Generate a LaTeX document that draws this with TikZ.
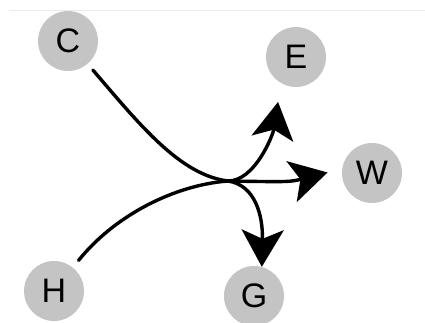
\documentclass[tikz,border=0pt]{standalone}
\usepackage{fontspec}
\setmainfont{Liberation Sans}
\usetikzlibrary{arrows.meta}
\definecolor{nodegray}{RGB}{196,196,196}
\definecolor{rulegray}{RGB}{236,236,236}
\tikzset{
  vertex/.style={circle, fill=nodegray, minimum size=60pt, inner sep=0pt,
    font=\fontsize{34}{40}\selectfont},
  flow/.style={line width=3.4pt, line cap=round},
  flowarrow/.style={flow, -{Stealth[length=37pt, width=42pt, inset=9pt]}}
}
\begin{document}
\begin{tikzpicture}[x=1pt, y=-1pt]
\useasboundingbox (0,0) rectangle (425,322);
\coordinate (L0) at (9,10);
\coordinate (L1) at (425,10);
\draw[rulegray, line width=0.8pt] (L0) -- (L1);
\node[vertex] (C) at (68,41) {C};
\node[vertex] (E) at (296,57) {E};
\node[vertex] (W) at (372,173) {W};
\node[vertex] (H) at (54,291) {H};
\node[vertex] (G) at (254,296) {G};
\coordinate (J) at (228,181);
\draw[flow, shorten <=8pt] (C) .. controls (140,125) and (180,175) .. (J);
\draw[flow, shorten <=9pt] (H) .. controls (115,215) and (175,185) .. (J);
\draw[flowarrow, shorten >=19pt] (J) .. controls (255,181) and (273,135) .. (E.-120);
\draw[flowarrow, shorten >=15pt] (J) .. controls (290,182) .. (W.172);
\draw[flowarrow] (J) .. controls (255,185) and (263,215) .. (G.75);
\end{tikzpicture}
\end{document}
